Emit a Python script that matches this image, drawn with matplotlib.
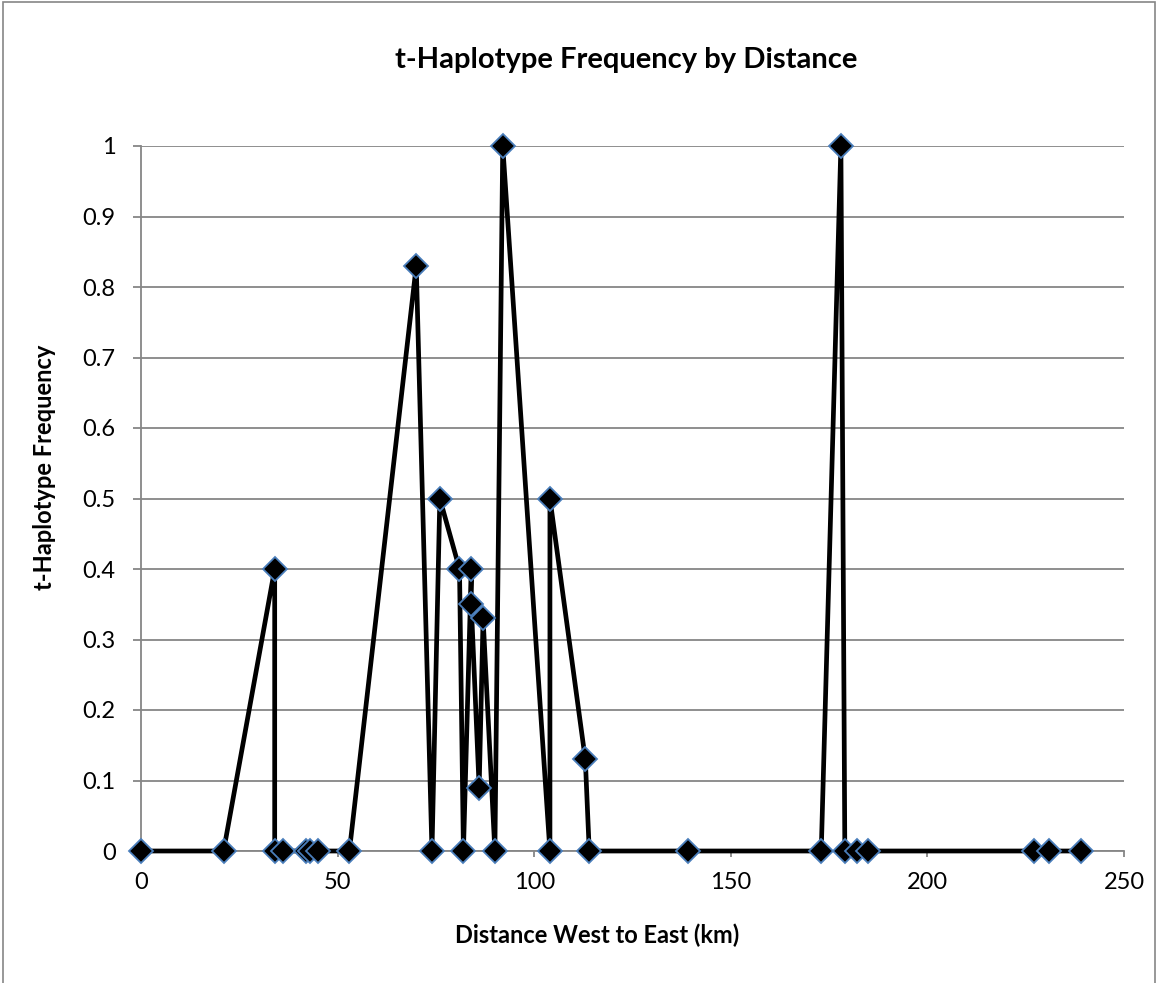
import matplotlib.pyplot as plt
from matplotlib.patches import Rectangle

plt.rcParams['font.family'] = ['Lato', 'DejaVu Sans']

# distance (km) and t-haplotype frequency, in sampling order
distance = [0, 21, 34, 34, 36, 42, 43, 45, 53, 70, 74, 76, 81, 82, 84, 84,
            86, 87, 90, 92, 104, 104, 113, 114, 139, 173, 178, 179, 182, 185,
            227, 231, 239]
frequency = [0, 0, 0.4, 0, 0, 0, 0, 0, 0, 0.83, 0, 0.5, 0.4, 0, 0.4, 0.35,
             0.09, 0.33, 0, 1.0, 0, 0.5, 0.13, 0, 0, 0, 1.0, 0, 0, 0,
             0, 0, 0]

x_ticks = [0, 50, 100, 150, 200, 250]
y_ticks = [0, 0.1, 0.2, 0.3, 0.4, 0.5, 0.6, 0.7, 0.8, 0.9, 1]
y_tick_labels = ['0', '0.1', '0.2', '0.3', '0.4', '0.5', '0.6', '0.7', '0.8', '0.9', '1']

W, H = 1158, 983
fig = plt.figure(figsize=(W / 100, H / 100), dpi=100)

# outer chart border (open at the bottom)
fig.patches.append(Rectangle((3 / W, -0.05), 1152 / W, 1.05 - 1.5 / H,
                             transform=fig.transFigure, fill=False,
                             edgecolor='#868686', linewidth=1.2))

ax = fig.add_axes([141 / W, 1 - 851 / H, (1124 - 141) / W, (851 - 146) / H])
ax.plot(distance, frequency, color='black', linewidth=3.4,
        marker='D', markersize=12, markerfacecolor='black',
        markeredgecolor='#4a7ebb', markeredgewidth=1.3,
        clip_on=False, zorder=3)

ax.set_xlim(0, 250)
ax.set_ylim(0, 1)
ax.set_xticks(x_ticks)
ax.set_yticks(y_ticks)
ax.set_yticklabels(y_tick_labels)
ax.grid(axis='y', color='#868686', linewidth=1.3)
ax.set_axisbelow(True)

for side in ['top', 'right']:
    ax.spines[side].set_visible(False)
for side in ['left', 'bottom']:
    ax.spines[side].set_color('#868686')
    ax.spines[side].set_linewidth(1.3)
ax.tick_params(axis='both', colors='#868686', labelcolor='black',
               labelsize=17, width=1.3)
ax.tick_params(axis='x', length=4.3, pad=11)
ax.tick_params(axis='y', length=5.8, pad=12.5)

# titles placed in figure pixels
fig.text(626 / W, 1 - 60 / H, 't-Haplotype Frequency by Distance',
         fontsize=21, fontweight='bold', ha='center', va='center')
fig.text(597 / W, 1 - 935 / H, 'Distance West to East (km)',
         fontsize=17, fontweight='bold', ha='center', va='center')
fig.text(45 / W, 1 - 467 / H, 't-Haplotype Frequency', rotation=90,
         fontsize=17, fontweight='bold', ha='center', va='center')

fig.savefig('out.png', dpi=100)
